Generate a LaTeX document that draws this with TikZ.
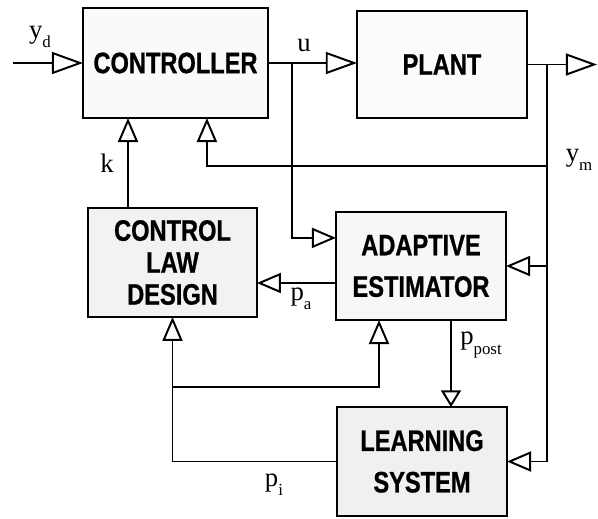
\documentclass[tikz,border=0pt]{standalone}
\usepackage{fontspec}
\setmainfont{Liberation Serif}
\newfontfamily\blockfont{Liberation Sans}[FakeStretch=0.8, FakeBold=0.8]
\usetikzlibrary{arrows.meta,calc}
\newcommand{\sig}[2]{#1\raisebox{-6.5pt}{\fontsize{12}{12}\selectfont #2}}
\tikzset{
  block/.style={draw, line width=1.6pt, inner sep=0pt, outer sep=0pt, align=center,
    font=\blockfont\bfseries\fontsize{21}{29.5}\selectfont},
  flow/.style={line width=1.4pt, -{Triangle[open, length=0.6cm, width=0.5cm]}},
  feed/.style={line width=1.4pt, -{Triangle[open, length=0.78cm, width=0.55cm]}},
  small/.style={line width=1.4pt, -{Triangle[open, length=0.42cm, width=0.5cm]}},
  signal/.style={font=\fontsize{19}{19}\selectfont, inner sep=0pt}
}

\begin{document}
\begin{tikzpicture}[x=0.025cm, y=-0.025cm]
\useasboundingbox (0,0) rectangle (598,519);

\node[block, fill=gray!4, minimum width=4.62cm, minimum height=2.75cm] (ctrl) at (175.5,63) {CONTROLLER};
\node[block, fill=gray!3, minimum width=4.25cm, minimum height=2.68cm] (plant) at (442,64.5) {PLANT};
\node[block, fill=gray!10, minimum width=4.22cm, minimum height=2.72cm,
  font=\blockfont\bfseries\fontsize{21}{22.7}\selectfont] (cld) at (172.5,262.5) {CONTROL\\LAW\\DESIGN};
\node[block, fill=gray!6, minimum width=4.25cm, minimum height=2.7cm] (est) at (421,266) {ADAPTIVE\\ESTIMATOR};
\node[block, fill=gray!12, minimum width=4.25cm, minimum height=2.72cm] (ls) at (422,461.5) {LEARNING\\SYSTEM};

\coordinate (in) at (13,63);
\coordinate (out) at (597,64.5);
\coordinate (ubr) at (292,63);
\coordinate (ybr) at (547,64.5);
\coordinate (ymj) at (547,166);
\coordinate (kx) at (128,0);
\coordinate (pa) at (0,283);
\coordinate (pp) at (451,0);
\coordinate (pij) at (172.5,387);
\coordinate (pie) at (379,0);
\coordinate (cin) at ($(ctrl.south west)!0.67!(ctrl.south east)$);
\coordinate (ein) at ($(est.north west)!0.24!(est.south west)$);

\draw[feed] (in) -- (ctrl);
\draw[feed] (ctrl.east) -- (ctrl.east -| plant.west);
\draw[feed] (plant) -- (out);
\draw[flow] (ubr) |- (ein);
\draw[flow] (ybr) |- (est.east);
\draw[flow] (ybr) |- (ls.east);
\draw[flow] (ymj) -| (cin);
\draw[flow] (cld.north -| kx) -- (ctrl.south -| kx);
\draw[flow] (est.west |- pa) -- (cld.east |- pa);
\draw[small] (est.south -| pp) -- (ls.north -| pp);
\draw[flow] (ls.west) -| (cld.south);
\draw[flow] (pij) -| (est.south -| pie);

\node[signal] (yd) at (40,37) {\sig{y}{d}};
\node[signal] (u) at (304,45) {u};
\node[signal] (k) at (107,163) {k};
\node[signal] (ym) at (579,160) {\sig{y}{m}};
\node[signal] (lpa) at (301,299) {\sig{p}{a}};
\node[signal] (lpp) at (481,345) {\sig{p}{post}};
\node[signal] (lpi) at (274,485) {\sig{p}{i}};
\end{tikzpicture}
\end{document}
